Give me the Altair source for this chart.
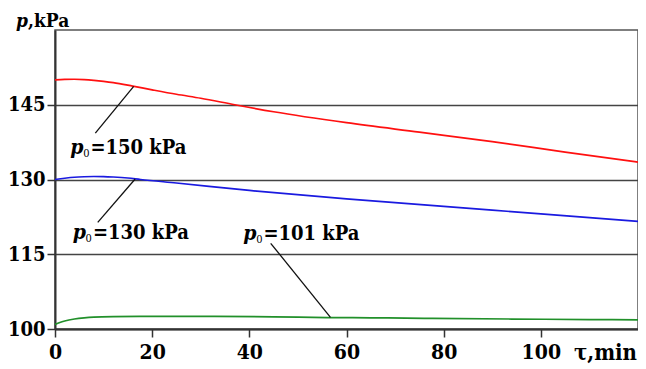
import altair as alt
import pandas as pd

# ---- data ----
t_red = [0, 2, 4, 6, 8, 10, 12, 16, 20, 25, 30, 37, 45, 60, 75, 90, 105, 120]
p_red = [150.0, 150.1, 150.12, 150.05, 149.9, 149.7, 149.45, 148.75, 148.0, 147.1, 146.3, 145.0, 143.6, 141.4, 139.5, 137.6, 135.5, 133.5]

t_blue = [0, 2, 4, 6, 8, 10, 12, 15, 17.6, 25, 40, 60, 80, 100, 120]
p_blue = [130.0, 130.25, 130.45, 130.55, 130.6, 130.58, 130.5, 130.3, 130.0, 129.3, 127.8, 126.1, 124.6, 123.1, 121.6]

t_green = [0, 1, 2, 4, 6, 8, 12, 20, 30, 45, 56, 65, 76, 94, 110, 120]
p_green = [100.9, 101.3, 101.6, 102.0, 102.25, 102.4, 102.5, 102.55, 102.55, 102.45, 102.3, 102.25, 102.15, 102.0, 101.9, 101.85]

series = ["p0=150 kPa", "p0=130 kPa", "p0=101 kPa"]
colors = ["#ff1010", "#1a1ae0", "#21902a"]

# leader lines (label end -> curve end)
lead_t1 = [8.3, 8.8, 44.4]
lead_p1 = [139.3, 121.4, 117.2]
lead_t2 = [16.2, 16.5, 56.7]
lead_p2 = [148.7, 130.1, 102.35]

# label anchors (start of "=" , baseline)
lab_t = [7.3, 7.8, 42.9]
lab_p = [135.2, 118.1, 117.9]
lab_text = ["=150 kPa", "=130 kPa", "=101 kPa"]

x_ticks = [0, 20, 40, 60, 80, 100]
y_ticks = [100, 115, 130, 145]

# ---- build tables ----
rows = []
for name, ts, ps in zip(series, [t_red, t_blue, t_green], [p_red, p_blue, p_green]):
    for t, p in zip(ts, ps):
        rows.append({"t": t, "p": p, "s": name})
df_lines = pd.DataFrame(rows)
df_lead = pd.DataFrame({"t": lead_t1, "p": lead_p1, "t2": lead_t2, "p2": lead_p2})
df_lab = pd.DataFrame({"t": lab_t, "p": lab_p, "txt": lab_text})
df_origin = pd.DataFrame({"t": [0], "p": [160]})
df_corner = pd.DataFrame({"t": [120], "p": [100]})

FONT = "DejaVu Serif Condensed, DejaVu Serif"
xs = alt.Scale(domain=[0, 120], nice=False, zero=False)
ys = alt.Scale(domain=[100, 160], nice=False, zero=False)

X = alt.X("t:Q", scale=xs, title=None,
          axis=alt.Axis(values=x_ticks, grid=False, tickSize=8, labelPadding=4,
                        labelFont=FONT, labelFontSize=21, labelFontWeight="bold",
                        labelColor="#000", domainColor="#333", domainWidth=2,
                        tickColor="#333", tickWidth=1.5, labelFlush=False, labelBaseline="top"))
Y = alt.Y("p:Q", scale=ys, title=None,
          axis=alt.Axis(values=y_ticks, grid=True, gridColor="#444", gridWidth=1.3,
                        tickSize=8, labelPadding=2,
                        labelFont=FONT, labelFontSize=20, labelFontWeight="bold",
                        labelColor="#000", domainColor="#333", domainWidth=2,
                        tickColor="#333", tickWidth=1.5, labelFlush=False))

Xp = alt.X("t:Q", scale=xs, title=None)
Yp = alt.Y("p:Q", scale=ys, title=None)

lines = alt.Chart(df_lines).mark_line(strokeWidth=1.7, interpolate="monotone").encode(
    x=X, y=Y,
    color=alt.Color("s:N", scale=alt.Scale(domain=series, range=colors), legend=None),
)

leaders = alt.Chart(df_lead).mark_rule(color="#111", strokeWidth=1.3).encode(
    x=Xp, y=Yp, x2="t2:Q", y2="p2:Q"
)

lab_main = alt.Chart(df_lab).mark_text(
    align="left", baseline="alphabetic", font=FONT, fontSize=20, fontWeight="bold", color="#000"
).encode(x=Xp, y=Yp, text="txt:N")

lab_p_ = alt.Chart(df_lab).mark_text(
    align="right", baseline="alphabetic", font=FONT, fontSize=21, fontWeight="bold",
    fontStyle="italic", color="#000", dx=-7
).encode(x=Xp, y=Yp, text=alt.value("p"))

lab_sub = alt.Chart(df_lab).mark_text(
    align="right", baseline="alphabetic", font=FONT, fontSize=11, color="#000", dx=-1, dy=3
).encode(x=Xp, y=Yp, text=alt.value("0"))

title_p = alt.Chart(df_origin).mark_text(
    align="right", baseline="alphabetic", font=FONT, fontSize=19, fontWeight="bold",
    fontStyle="italic", color="#000", dx=-27, dy=-3
).encode(x=Xp, y=Yp, text=alt.value("p"))

title_rest = alt.Chart(df_origin).mark_text(
    align="left", baseline="alphabetic", font=FONT, fontSize=19, fontWeight="bold",
    color="#000", dx=-27, dy=-3
).encode(x=Xp, y=Yp, text=alt.value(",kPa"))

x_title = alt.Chart(df_corner).mark_text(
    align="right", baseline="alphabetic", font=FONT, fontSize=22, fontWeight="bold",
    color="#000", dx=-1, dy=31
).encode(x=Xp, y=Yp, text=alt.value("τ,min"))

chart = alt.layer(
    lines, leaders, lab_main, lab_p_, lab_sub, title_p, title_rest, x_title
).properties(
    width=583, height=299,
    autosize=alt.AutoSizeParams(type="none"),
    padding={"left": 47, "top": 22, "right": 0, "bottom": 38},
    background="white",
).configure_view(stroke="#555", strokeWidth=1.5)

chart.save("out.html", embed_options={"renderer": "svg", "actions": False})
